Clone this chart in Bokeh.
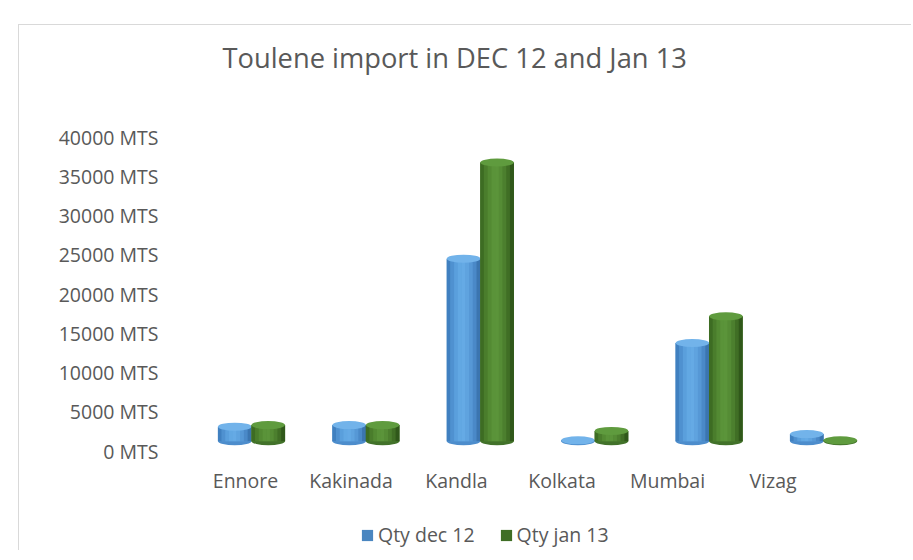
from bokeh.plotting import figure
from bokeh.layouts import column
from bokeh.models import (Range1d, FixedTicker, PrintfTickFormatter, Legend,
                          LegendItem, ColumnDataSource)
from bokeh.embed import file_html
from bokeh.resources import INLINE

# ---------------- data ----------------
categories = ["Ennore", "Kakinada", "Kandla", "Kolkata", "Mumbai", "Vizag"]
qty_dec_12 = [1850, 2050, 23250, 100, 12500, 900]
qty_jan_13 = [2050, 2050, 35500, 1300, 15900, 100]
series_names = ["Qty dec 12", "Qty jan 13"]
y_ticks = [0, 5000, 10000, 15000, 20000, 25000, 30000, 35000, 40000]

# ---------------- styles ----------------
FONT = "Open Sans"
TXT = "#595959"
strip_colors = [
    ["#4080c0", "#4f91d0", "#5a9fdc", "#62a8e3", "#65aae5", "#5fa3df", "#5698d6", "#4a89c8", "#3b75b0"],
    ["#3d6c23", "#4a7d2c", "#538a33", "#5a9339", "#5b943a", "#558c35", "#4c7f2e", "#406e25", "#30581a"],
]
base_colors = ["#5b9bd5", "#4e8230"]
legend_colors = ["#4a86c0", "#3f6e25"]
cap_colors = ["#72b3ea", "#5f9b3e"]
bottom_colors = ["#4d8dcc", "#42722a"]

p = figure(frame_width=715, frame_height=345, output_backend="svg", toolbar_location=None,
           x_range=Range1d(-0.654, 6.123), y_range=Range1d(-1700, 42249),
           min_border_left=157, min_border_right=20, min_border_top=0,
           min_border_bottom=40)

p.extra_x_ranges = {"bars": Range1d(-0.6556, 5.594)}
p.extra_y_ranges = {"bars": Range1d(-2974, 40975)}

p.outline_line_color = None
p.xgrid.visible = False
p.ygrid.visible = False
p.background_fill_color = "white"
p.border_fill_color = "white"

# title
p.title.text = "Toulene import in DEC 12 and Jan 13"
p.title.text_font = FONT
p.title.text_font_size = "27.3px"
p.title.text_font_style = "normal"
p.title.text_color = TXT
p.title.align = "left"
p.title.offset = 46
p.title.standoff = 23
p.title.padding = dict(left=0, right=0, top=0, bottom=32)

# y axis
yax = p.yaxis[0]
yax.ticker = FixedTicker(ticks=y_ticks)
yax.formatter = PrintfTickFormatter(format="%d MTS")
yax.axis_line_color = None
yax.major_tick_line_color = None
yax.minor_tick_line_color = None
yax.major_label_standoff = 12
yax.major_label_text_font = FONT
yax.major_label_text_font_size = "19.5px"
yax.major_label_text_color = TXT

# x axis
xax = p.xaxis[0]
xax.ticker = FixedTicker(ticks=list(range(len(categories))))
xax.major_label_overrides = {i: c for i, c in enumerate(categories)}
xax.axis_line_color = None
xax.major_tick_line_color = None
xax.minor_tick_line_color = None
xax.major_tick_out = 0
xax.major_tick_in = 0
xax.major_label_standoff = 2
xax.major_label_text_font = FONT
xax.major_label_text_font_size = "19.5px"
xax.major_label_text_color = TXT

# bars (cylinders)
bw = 33.5 / 114.4
nstrip = len(strip_colors[0])
sw = bw / nstrip
series_values = [qty_dec_12, qty_jan_13]
for k, vals in enumerate(series_values):
    centers = [i + (k - 0.5) * bw for i in range(len(categories))]
    src = ColumnDataSource(dict(x=centers, top=vals, zero=[0] * len(vals)))
    p.ellipse(x="x", y="zero", width=bw, height=8, height_units="screen",
              fill_color=bottom_colors[k], line_color=None, source=src,
              x_range_name="bars", y_range_name="bars")
    p.vbar(x="x", top="top", bottom=0, width=bw, fill_color=base_colors[k],
           line_color=None, source=src, x_range_name="bars", y_range_name="bars")
    for j in range(nstrip):
        off = -bw / 2 + (j + 0.5) * sw
        ssrc = ColumnDataSource(dict(x=[c + off for c in centers], top=vals))
        p.vbar(x="x", top="top", bottom=0, width=sw * 1.08, fill_color=strip_colors[k][j],
               line_color=None, source=ssrc, x_range_name="bars", y_range_name="bars")
    p.ellipse(x="x", y="top", width=bw, height=8, height_units="screen",
              fill_color=cap_colors[k], line_color=None, source=src,
              x_range_name="bars", y_range_name="bars")

# legend strip (separate small figure below the chart)
lp = figure(frame_width=892, frame_height=46, output_backend="svg", toolbar_location=None,
            x_range=Range1d(-100, -99), y_range=Range1d(-100, -99),
            x_axis_location=None, y_axis_location=None,
            min_border_left=0, min_border_right=0, min_border_top=0, min_border_bottom=0)
lp.outline_line_color = None
lp.xgrid.visible = False
lp.ygrid.visible = False
lp.border_fill_color = "white"
legend_items = []
for k, name in enumerate(series_names):
    vals = series_values[k]
    # zero-height proxy bars (same data, outside the view) so the legend has a glyph to draw
    r = lp.vbar(x=list(range(len(categories))), top=vals, bottom=vals, width=0.1,
                fill_color=legend_colors[k], line_color=None)
    legend_items.append(LegendItem(label=name, renderers=[r]))

legend = Legend(items=legend_items, orientation="horizontal", location=(341, 2))
legend.glyph_width = 14
legend.glyph_height = 14
legend.label_standoff = 4
legend.spacing = 24
legend.label_text_font = FONT
legend.label_text_font_size = "19.5px"
legend.label_text_color = TXT
legend.border_line_color = None
legend.background_fill_alpha = 0
legend.padding = 0
legend.margin = 0
lp.add_layout(legend, "center")

layout = column(p, lp, spacing=0)
layout.margin = (24, 0, 0, 18)
layout.styles = {"border-left": "1px solid #d9d9d9", "border-top": "1px solid #d9d9d9"}

open("out.html", "w").write(file_html(layout, INLINE))
